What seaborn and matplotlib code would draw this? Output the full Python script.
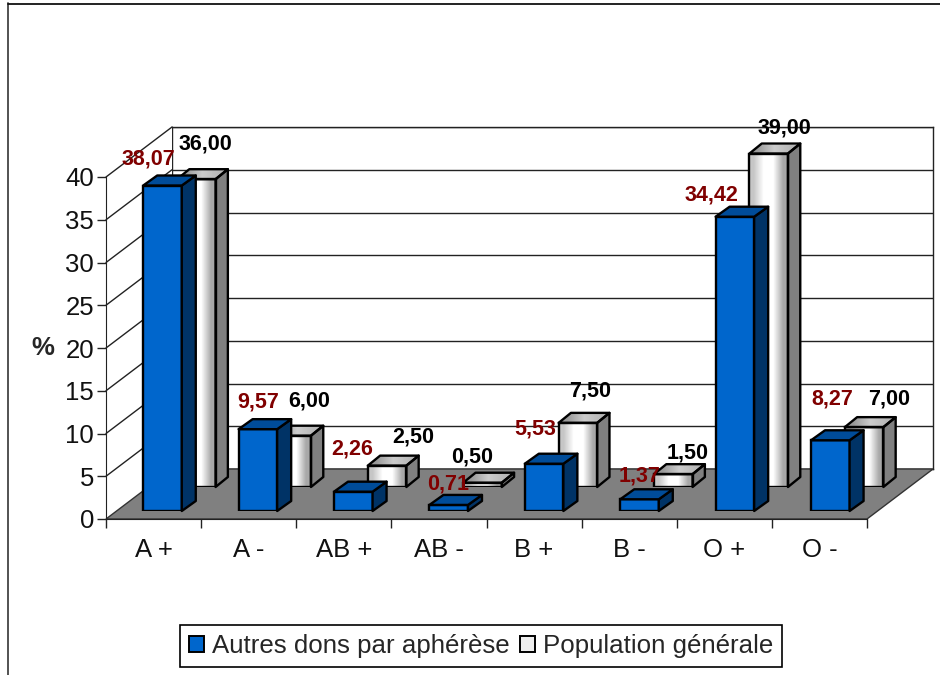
import numpy as np
import matplotlib
matplotlib.use('Agg')
import matplotlib.pyplot as plt
from matplotlib.lines import Line2D
from matplotlib.patches import Patch, Polygon
from matplotlib.ticker import FixedLocator, NullFormatter
import seaborn as sns

groupes = ['A +', 'A -', 'AB +', 'AB -', 'B +', 'B -', 'O +', 'O -']
dons = [38.07, 9.57, 2.26, 0.71, 5.53, 1.37, 34.42, 8.27]
population = [36.00, 6.00, 2.50, 0.50, 7.50, 1.50, 39.00, 7.00]
nom_dons = 'Autres dons par aphérèse'
nom_population = 'Population générale'
yticks = [0, 5, 10, 15, 20, 25, 30, 35, 40]

# label offsets from the top of each bar, in pixels
dons_off = [(-14, 27), (0, 27), (-1, 43), (-1, 21), (-9, 35), (0, 23), (-23, 22), (2, 41)]
pop_off = [(9, 35), (17, 35), (26, 29), (-10, 26), (12, 32), (14, 21), (16, 26), (25, 28)]

W, H = 940, 675
PX_Y = 342 / 40
EDGE = 1.7
sns.set_style('white')
plt.rcParams['font.family'] = ['Liberation Sans', 'DejaVu Sans']
fig = plt.figure(figsize=(W / 100, H / 100), dpi=100, facecolor='white')


def axes_px(left, right, y0, y40, z):
    # axes placed in pixels from the top left, y range always 0-40
    ax = fig.add_axes([left / W, 1 - y0 / H, (right - left) / W, (y0 - y40) / H], zorder=z)
    ax.set_ylim(0, 40)
    ax.patch.set_alpha(0)
    return ax


# outer frame
fig.add_artist(Line2D([8 / W, 8 / W], [1 - 3 / H, 0], color='#444444', lw=1.3))
fig.add_artist(Line2D([8 / W, 1], [1 - 3.5 / H, 1 - 3.5 / H], color='#111111', lw=1.3))

# back wall
wall = axes_px(172, 933, 469, 127, 1)
wall.patch.set_alpha(1)
wall.set_xticks([])
wall.set_yticks(yticks)
wall.tick_params(left=False, labelleft=False)
wall.grid(axis='y', color='#222222', lw=1.0)
for s in wall.spines.values():
    s.set_color('#222222')
    s.set_linewidth(1.0)

# front axis with floor and side wall
front = axes_px(106, 867, 519, 177, 2)
front.set_xlim(-0.5, 7.5)
depth_x, depth_y = 66 / 95.1, 50 / PX_Y
front.add_patch(Polygon([(-0.5, 0), (7.5, 0), (7.5 + depth_x, depth_y), (-0.5 + depth_x, depth_y)],
                        closed=True, fc='#808080', ec='#333333', lw=1, clip_on=False, zorder=2))
for v in yticks[1:]:
    front.plot([-0.5, -0.5 + depth_x], [v, v + depth_y], color='#222222', lw=1, clip_on=False)
side = Polygon([(-0.5, 0), (-0.5 + depth_x, depth_y), (-0.5 + depth_x, 40 + depth_y), (-0.5, 40)],
               closed=True, fc='white', ec='none', clip_on=False, zorder=0.5)
front.add_patch(side)
front.set_yticks(yticks)
front.xaxis.set_major_locator(FixedLocator(np.arange(-0.5, 8)))
front.xaxis.set_major_formatter(NullFormatter())
front.xaxis.set_minor_locator(FixedLocator(np.arange(8)))
front.set_xticklabels(groupes, minor=True)
front.tick_params(axis='x', which='major', length=6.5, width=1, color='#222222', bottom=True)
front.tick_params(axis='x', which='minor', length=0, labelsize=18.5, pad=14, labelcolor='#111111')
front.tick_params(axis='y', length=6.5, width=1, color='#222222', left=True, labelsize=18.5, pad=2,
                  labelcolor='#111111')
sns.despine(ax=front, top=True, right=True)
front.spines['left'].set_color('#222222')
front.spines['bottom'].set_color('#222222')
front.set_ylabel('%', rotation=0, fontsize=18.5, fontweight='bold', labelpad=16, y=0.5, va='center')


def grad(ax, stops, ext, clip, z):
    im = ax.imshow(np.array(stops)[None, :, :], extent=ext, aspect='auto', zorder=z,
                   interpolation='bilinear', clip_on=True)
    im.set_clip_path(clip)


def draw_bars(ax, values, offsets, depth_px, front_col, top_col, side_col, txt_col, shiny=False):
    sns.barplot(x=groupes, y=values, ax=ax, color=front_col, saturation=1, width=0.404,
                edgecolor='black', linewidth=EDGE, legend=False)
    ax.set_xlim(-0.5, 7.5)
    ax.set_ylim(0, 40)
    ax.axis('off')
    dx, dy = depth_px[0] / 95.4, depth_px[1] / PX_Y
    for bar, val, off in zip(list(ax.patches), values, offsets):
        x0, x1, h = bar.get_x(), bar.get_x() + bar.get_width(), bar.get_height()
        top = Polygon([(x0, h), (x1, h), (x1 + dx, h + dy), (x0 + dx, h + dy)], closed=True,
                      fc=top_col, ec='black', lw=EDGE, clip_on=False, zorder=3, joinstyle='round')
        right = Polygon([(x1, 0), (x1 + dx, dy), (x1 + dx, h + dy), (x1, h)], closed=True,
                        fc=side_col, ec='black', lw=EDGE, clip_on=False, zorder=3, joinstyle='round')
        ax.add_patch(right)
        ax.add_patch(top)
        if shiny:
            bar.set_facecolor('none')
            bar.set_zorder(4)
            grad(ax, [[.78, .78, .78], [1, 1, 1], [1, 1, 1], [.66, .66, .66]], (x0, x1, 0, h), bar, 2)
            top.set_facecolor('none')
            grad(ax, [[.60, .60, .60], [.80, .80, .80], [.72, .72, .72]],
                 (x0, x1 + dx, h, h + dy), top, 2)
        ax.annotate(f'{val:.2f}'.replace('.', ','), (bar.get_x() + bar.get_width() / 2, h),
                    xytext=off, textcoords='offset pixels', ha='center', va='center',
                    fontsize=15.5, fontweight='bold', color=txt_col, zorder=6, annotation_clip=False)
    ax.set_xlim(-0.5, 7.5)
    ax.set_ylim(0, 40)


left_bars = 162.5 - 47.7
ax_pop = axes_px(left_bars + 33.8, left_bars + 33.8 + 763.2, 487, 487 - 342, 3)
draw_bars(ax_pop, population, pop_off, (12.3, 10), 'white', '#bbbbbb', '#808080', 'black', shiny=True)
ax_dons = axes_px(left_bars, left_bars + 763.2, 511, 511 - 342, 4)
draw_bars(ax_dons, dons, dons_off, (14, 10), '#0066cc', '#004c99', '#003366', '#800000')

handles = [Patch(fc='#0066cc', ec='black', lw=1.4), Patch(fc='#eeeeee', ec='black', lw=1.4)]
leg = fig.legend(handles, [nom_dons, nom_population], ncol=2, loc='center',
                 bbox_to_anchor=(481 / W, 1 - 646 / H), fontsize=18.6, frameon=True, fancybox=False,
                 edgecolor='black', framealpha=1, handlelength=0.58, handleheight=0.58,
                 handletextpad=0.32, columnspacing=0.38, borderpad=0.33, borderaxespad=0)
leg.get_frame().set_linewidth(1.2)
leg.set_zorder(10)

fig.savefig('out.png', dpi=100)
